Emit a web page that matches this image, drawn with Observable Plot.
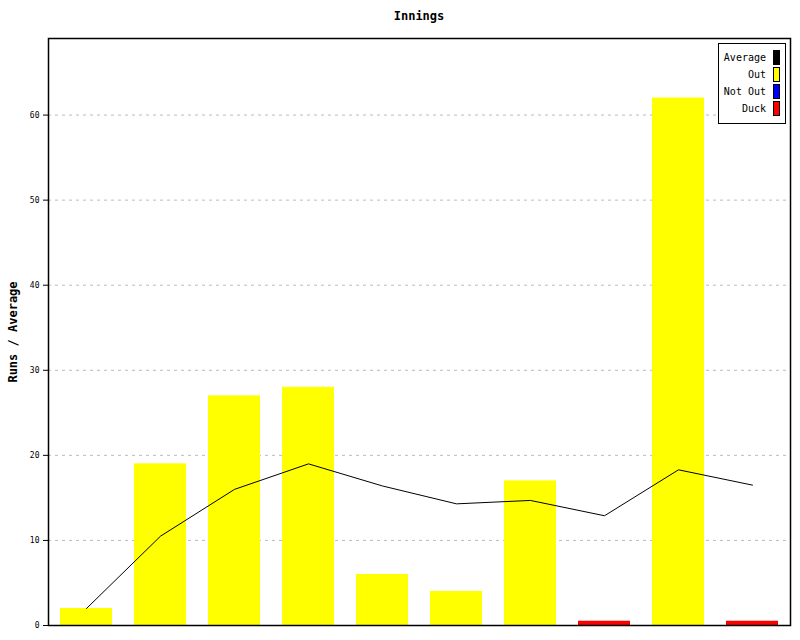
<!DOCTYPE html>
<html>
<head>
<meta charset="utf-8">
<script src="https://cdn.jsdelivr.net/npm/d3@7"></script>
<script src="https://cdn.jsdelivr.net/npm/@observablehq/plot@0.6"></script>
<style>
  body { margin: 0; background: #fff; }
  #wrap { position: relative; width: 800px; height: 640px; font-family: "DejaVu Sans Mono", monospace; }
  #title { position: absolute; left: 48px; width: 742px; top: 9px; text-align: center; font-size: 12px; font-weight: bold; }
  #ylabel { position: absolute; left: 13px; top: 332px; transform: translate(-50%, -50%) rotate(-90deg); font-size: 12px; font-weight: bold; white-space: nowrap; }
  #legend { position: absolute; left: 718px; top: 43px; width: 66px; height: 79px; border: 1px solid #000; background: #fff; font-size: 10px; }
  .row { position: absolute; right: 5px; height: 15px; display: flex; align-items: center; white-space: nowrap; }
  .sw { width: 5px; height: 13px; border: 1px solid #000; margin-left: 7px; }
  svg text { font-family: "DejaVu Sans Mono", monospace; }
</style>
</head>
<body>
<div id="wrap">
  <div id="chart"></div>
  <div id="title">Innings</div>
  <div id="ylabel">Runs / Average</div>
  <div id="legend"></div>
</div>
<script>
const innings = [1, 2, 3, 4, 5, 6, 7, 8, 9, 10];
const runs = [2, 19, 27, 28, 6, 4, 17, 0, 62, 0];
const status = ["Out", "Out", "Out", "Out", "Out", "Out", "Out", "Duck", "Out", "Duck"];
const average = [2, 10.5, 16, 19, 16.4, 14.3, 14.7, 12.9, 18.3, 16.5];
const legendLabels = ["Average", "Out", "Not Out", "Duck"];
const legendColors = ["#000000", "#ffff00", "#0000ff", "#ff0000"];
const yTicks = [0, 10, 20, 30, 40, 50, 60];

const data = innings.map((d, i) => ({inning: d, runs: runs[i], status: status[i], average: average[i]}));
const colorOf = Object.fromEntries(legendLabels.map((l, i) => [l, legendColors[i]]));

const chart = Plot.plot({
  width: 800,
  height: 640,
  marginLeft: 48,
  marginRight: 10,
  marginTop: 38,
  marginBottom: 15,
  style: {fontFamily: "DejaVu Sans Mono, monospace", fontSize: "8px", background: "#fff"},
  x: {type: "band", domain: innings, paddingInner: 0.3, paddingOuter: 0.15, axis: null},
  y: {domain: [0, 69], ticks: yTicks, label: null},
  marks: [
    Plot.ruleY(yTicks.filter(t => t > 0), {stroke: "#bbb", strokeDasharray: "3,4", strokeWidth: 1}),
    Plot.barY(data, {x: "inning", y1: 0, y2: d => d.status === "Duck" ? 0.5 : d.runs, fill: d => colorOf[d.status]}),
    Plot.lineY(data, {x: "inning", y: "average", stroke: "#000", strokeWidth: 1}),
    Plot.axisY({ticks: yTicks, tickSize: 5, tickPadding: 4, label: null, tickFormat: d => d, fontSize: 8}),
    Plot.frame({stroke: "#000", strokeWidth: 1.5})
  ]
});
document.getElementById("chart").appendChild(chart);

const legend = document.getElementById("legend");
legendLabels.forEach((l, i) => {
  const row = document.createElement("div");
  row.className = "row";
  row.style.top = (6 + i * 17) + "px";
  row.innerHTML = `<span>${l}</span><span class="sw" style="background:${legendColors[i]}"></span>`;
  legend.appendChild(row);
});
</script>
</body>
</html>
